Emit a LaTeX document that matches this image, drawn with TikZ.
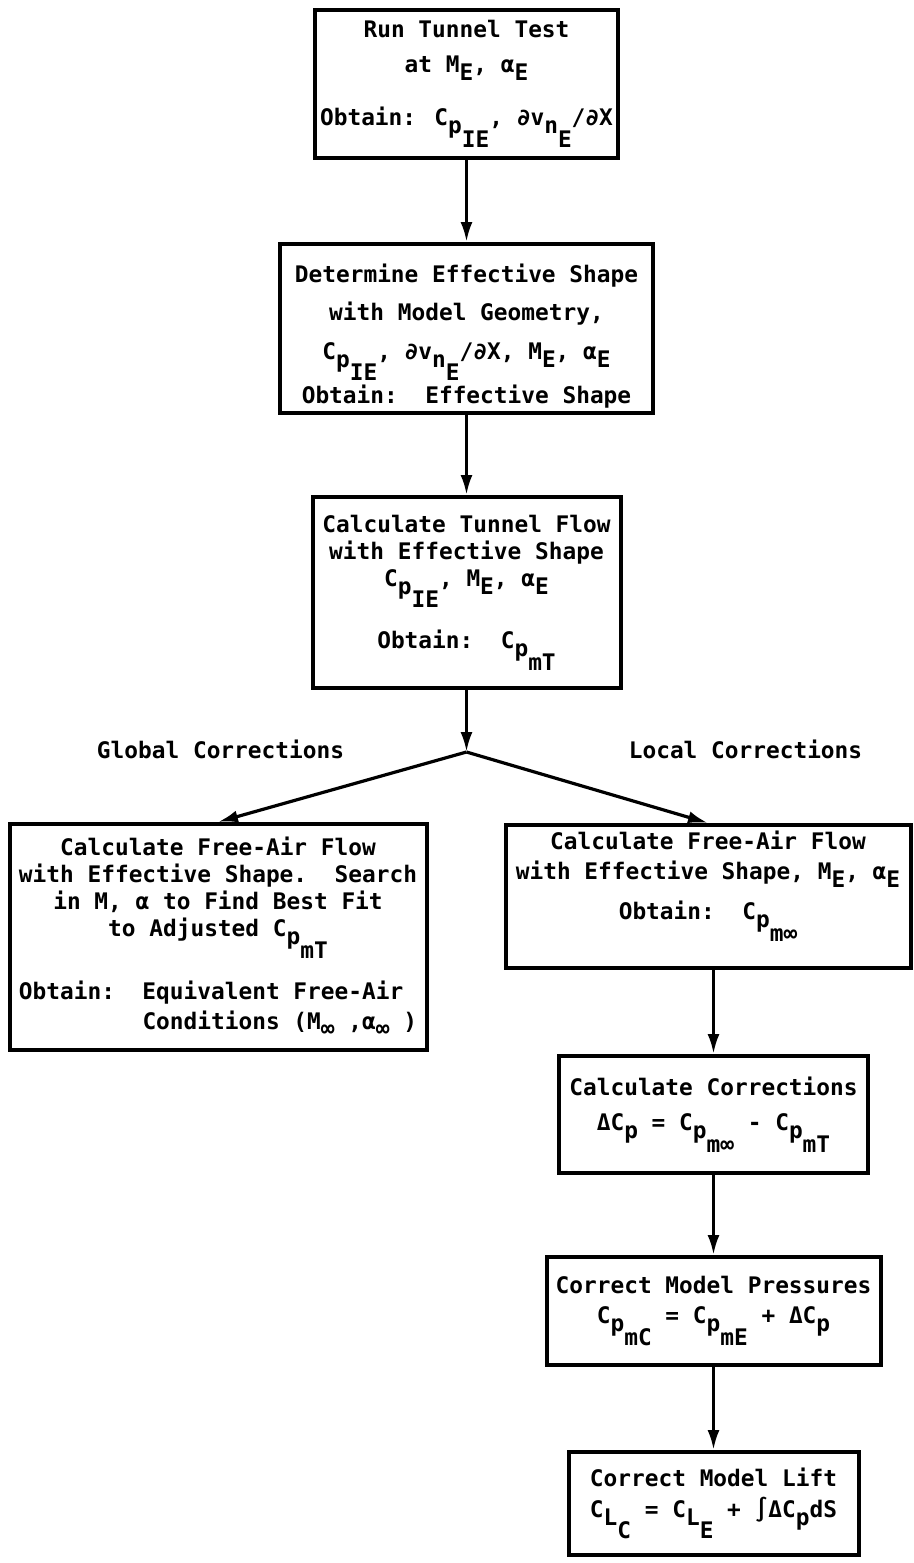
\documentclass[tikz,border=0pt]{standalone}
\usepackage{fontspec}
\setmainfont{DejaVu Sans Mono}
\usetikzlibrary{arrows.meta,positioning}
\newcommand{\lo}[1]{\raisebox{-0.35em}{#1}}
\newcommand{\llo}[1]{\raisebox{-0.95em}{#1}}

\begin{document}
\begin{tikzpicture}[->,>={Latex[length=10pt,width=6pt]},line width=1.6pt,
    font=\fontsize{11.4}{13.5}\selectfont\bfseries,
    box/.style={draw,line width=2pt,align=center,inner sep=0pt}]
    \fill[white] (0,0) rectangle (457pt,-781.5pt);
    \useasboundingbox (0,0) rectangle (457pt,-781.5pt);

    % main column
    \node[box,minimum width=151.5pt,minimum height=74pt] (run) at (233.25pt,-42pt)
        {Run Tunnel Test\\[4pt] at M\lo{E}, α\lo{E}\\[13pt]
         Obtain: C\lo{p}\llo{IE}, ∂v\lo{n}\llo{E}/∂X};
    \node[box,minimum width=186.5pt,minimum height=84.5pt] (effshape) [below=41pt of run]
        {\rule{0pt}{16.7pt}Determine Effective Shape\\[5.5pt] with Model Geometry,\\[6pt]
         C\lo{p}\llo{IE}, ∂v\lo{n}\llo{E}/∂X, M\lo{E}, α\lo{E}\\[1pt]
         Obtain:\ \ Effective Shape};
    \node[box,minimum width=154pt,minimum height=95.5pt] (tunflow) [below=40pt of effshape]
        {Calculate Tunnel Flow\\ with Effective Shape\\
         C\lo{p}\llo{IE}, M\lo{E}, α\lo{E}\\[10pt]
         Obtain:\ \ C\lo{p}\llo{mT}};
    \coordinate[below=31pt of tunflow] (split);

    % branch labels
    \node (global) at ([xshift=-123pt,yshift=1.5pt]split) {Global Corrections};
    \node (local) at ([xshift=139.5pt,yshift=1.5pt]split) {Local Corrections};

    % global branch
    \node[box,anchor=north,minimum width=208.5pt,minimum height=113pt] (glfree)
        at ([xshift=-124.25pt,yshift=-35pt]split)
        {Calculate Free-Air Flow\\ with Effective Shape.\ \ Search\\
         in M, α to Find Best Fit\\ to Adjusted C\lo{p}\llo{mT}\\[10pt]
         \begin{tabular}{@{}l@{\ \ }l@{}}
         Obtain: & Equivalent Free-Air\\[1.5pt]
                 & Conditions (M\lo{∞} ,α\lo{∞} )
         \end{tabular}};

    % local branch
    \node[box,anchor=north,minimum width=202.5pt,minimum height=71.5pt] (lcfree)
        at ([xshift=120.75pt,yshift=-35.5pt]split)
        {Calculate Free-Air Flow\\[1.5pt] with Effective Shape, M\lo{E}, α\lo{E}\\[6.5pt]
         Obtain:\ \ C\lo{p}\llo{m∞}\rule[-21pt]{0pt}{0pt}};
    \node[box,minimum width=154.5pt,minimum height=58.5pt] (corr) [below=42pt of lcfree,xshift=2.75pt]
        {Calculate Corrections\\[4pt]
         ΔC\lo{p} = C\lo{p}\llo{m∞} - C\lo{p}\llo{mT}};
    \node[box,minimum width=167pt,minimum height=54pt] (press) [below=40pt of corr]
        {Correct Model Pressures\\[1.5pt]
         C\lo{p}\llo{mC} = C\lo{p}\llo{mE} + ΔC\lo{p}};
    \node[box,minimum width=145pt,minimum height=51.5pt] (lift) [below=41.5pt of press]
        {Correct Model Lift\\[2pt]
         C\lo{L}\llo{C} = C\lo{L}\llo{E} + ∫ΔC\lo{p}dS};

    % arrows
    \draw (run) -- (effshape);
    \draw (effshape) -- (tunflow);
    \draw (tunflow) -- (split);
    \draw (split) -- (glfree.north);
    \draw (split) -- (lcfree.north);
    \draw (corr.north |- lcfree.south) -- (corr);
    \draw (corr) -- (press);
    \draw (press) -- (lift);
\end{tikzpicture}
\end{document}
